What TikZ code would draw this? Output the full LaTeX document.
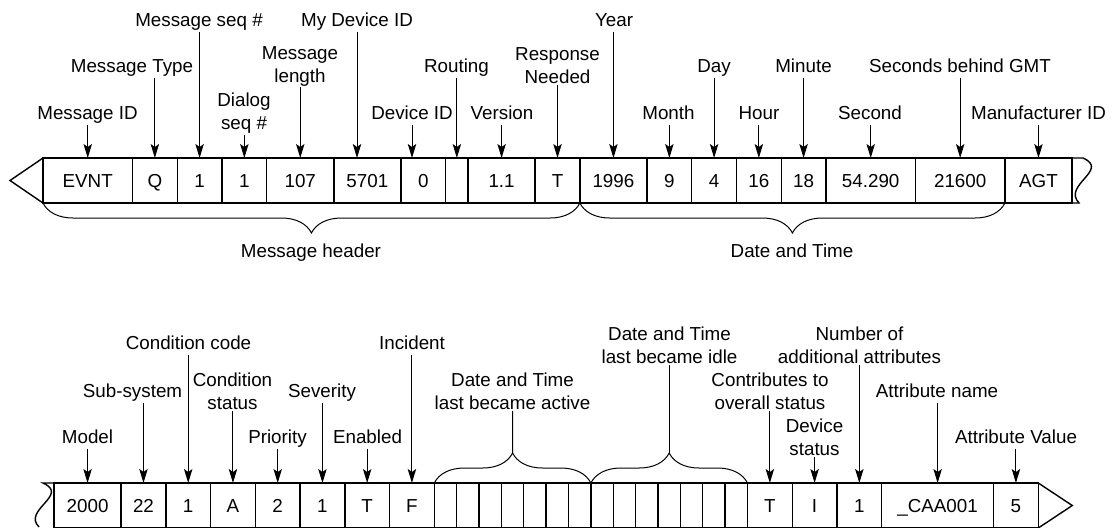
\documentclass[tikz,border=0pt]{standalone}
\usepackage{fontspec}
\setmainfont{Liberation Sans}
\usetikzlibrary{arrows.meta, positioning, decorations.pathreplacing}

\begin{document}
\begin{tikzpicture}[x=0.5pt, y=-0.5pt,
        cell/.style={draw, rectangle, line width=0.7pt, outer sep=0pt, inner sep=0pt, minimum width=22.37pt, minimum height=22.5pt, text height=6.8pt, text depth=0pt, font=\fontsize{9.4}{11.5}\selectfont},
        cellhalf/.style={cell, minimum width=11.185pt},
        cellwide/.style={cell, minimum width=33.555pt},
        celldbl/.style={cell, minimum width=44.74pt},
        celllong/.style={cell, minimum width=55.925pt},
        rowline/.style={line width=0.7pt},
        fieldlbl/.style={inner sep=0.5pt, text height=6.8pt, text depth=2pt, font=\fontsize{9.4}{11.5}\selectfont},
        fieldlbltwo/.style={inner sep=0.5pt, align=center, font=\fontsize{9.4}{11.5}\selectfont},
        pointer/.style={-{Stealth[length=7pt, width=4.2pt, inset=1.5pt]}, line width=0.5pt},
        grpbrace/.style={decorate, decoration={brace, amplitude=15pt}, line width=0.5pt}]
        \useasboundingbox (0,0) rectangle (1112,527);

        \node[celldbl, anchor=west] (evnt) at (43,180.5) {EVNT};
        \node[cell, right=0pt of evnt] (mtype) {Q};
        \node[cell, right=0pt of mtype] (mseq) {1};
        \node[cell, right=0pt of mseq] (dseq) {1};
        \node[cellwide, right=0pt of dseq] (mlen) {107};
        \node[cellwide, right=0pt of mlen] (mydev) {5701};
        \node[cell, right=0pt of mydev] (dev) {0};
        \node[cellhalf, right=0pt of dev] (rte) {};
        \node[cellwide, right=0pt of rte] (ver) {1.1};
        \node[cell, right=0pt of ver] (resp) {T};
        \node[cellwide, right=0pt of resp] (yr) {1996};
        \node[cell, right=0pt of yr] (mon) {9};
        \node[cell, right=0pt of mon] (day) {4};
        \node[cell, right=0pt of day] (hr) {16};
        \node[cell, right=0pt of hr] (mnt) {18};
        \node[celldbl, right=0pt of mnt] (sec) {54.290};
        \node[celldbl, right=0pt of sec] (gmt) {21600};
        \node[cellwide, right=0pt of gmt] (mfr) {AGT};

        \draw[rowline] (evnt.north west) -- ([xshift=-16.5pt]evnt.west) -- (evnt.south west);
        \draw[rowline] (mfr.north east) -- (1083,158) .. controls (1110,170) and (1062,185) .. (1079,203) -- (mfr.south east);

        \node[fieldlbl] (msgidlbl) at (87.5,114.5) {Message ID};
        \node[fieldlbl] (typelbl) at (132,67.5) {Message Type};
        \node[fieldlbl] (mseqlbl) at (199,21.5) {Message seq \#};
        \node[fieldlbltwo] (dseqlbl) at (244,113.5) {Dialog\\seq \#};
        \node[fieldlbltwo] (lenlbl) at (300,66) {Message\\length};
        \node[fieldlbl] (mydevlbl) at (357,21.5) {My Device ID};
        \node[fieldlbl] (devlbl) at (412,114.5) {Device ID};
        \node[fieldlbl] (rtelbl) at (456.5,67.5) {Routing};
        \node[fieldlbl] (verlbl) at (502,114.5) {Version};
        \node[fieldlbltwo] (resplbl) at (557.5,66) {Response\\Needed};
        \node[fieldlbl] (yrlbl) at (614,21.5) {Year};
        \node[fieldlbl] (monlbl) at (668.5,114.5) {Month};
        \node[fieldlbl] (daylbl) at (714,67.5) {Day};
        \node[fieldlbl] (hrlbl) at (759,114.5) {Hour};
        \node[fieldlbl] (mntlbl) at (803.5,67.5) {Minute};
        \node[fieldlbl] (seclbl) at (870,114.5) {Second};
        \node[fieldlbl] (gmtlbl) at (960,67.5) {Seconds behind GMT};
        \node[fieldlbl] (mfrlbl) at (1038.5,114.5) {Manufacturer ID};

        \draw[pointer] (evnt.north |- msgidlbl.south) -- (evnt.north);
        \draw[pointer] (mtype.north |- typelbl.south) -- (mtype.north);
        \draw[pointer] (mseq.north |- mseqlbl.south) -- (mseq.north);
        \draw[pointer] (dseq.north |- dseqlbl.south) -- (dseq.north);
        \draw[pointer] (mlen.north |- lenlbl.south) -- (mlen.north);
        \draw[pointer] (mydevlbl.south) -- (mydevlbl.south |- mydev.north);
        \draw[pointer] (devlbl.south) -- (devlbl.south |- dev.north);
        \draw[pointer] (rte.north |- rtelbl.south) -- (rte.north);
        \draw[pointer] (ver.north |- verlbl.south) -- (ver.north);
        \draw[pointer] (resp.north |- resplbl.south) -- (resp.north);
        \draw[pointer] (yr.north |- yrlbl.south) -- (yr.north);
        \draw[pointer] (mon.north |- monlbl.south) -- (mon.north);
        \draw[pointer] (day.north |- daylbl.south) -- (day.north);
        \draw[pointer] (hr.north |- hrlbl.south) -- (hr.north);
        \draw[pointer] (mnt.north |- mntlbl.south) -- (mnt.north);
        \draw[pointer] (sec.north |- seclbl.south) -- (sec.north);
        \draw[pointer] (gmt.north |- gmtlbl.south) -- (gmt.north);
        \draw[pointer] (mfr.north |- mfrlbl.south) -- (mfr.north);

        \draw[grpbrace] (resp.south east) -- (evnt.south west);
        \draw[grpbrace] (mfr.south west) -- (yr.south west);
        \node[fieldlbl] (hdrlbl) at (311,252.5) {Message header};
        \node[fieldlbl] (dtlbl) at (792,252.5) {Date and Time};

        \node[cellwide, anchor=west] (mdl) at (54,505.5) {2000};
        \node[cell, right=0pt of mdl] (subsys) {22};
        \node[cell, right=0pt of subsys] (ccode) {1};
        \node[cell, right=0pt of ccode] (cstat) {A};
        \node[cell, right=0pt of cstat] (prio) {2};
        \node[cell, right=0pt of prio] (sev) {1};
        \node[cell, right=0pt of sev] (enab) {T};
        \node[cell, right=0pt of enab] (inc) {F};
        \node[cellhalf, right=0pt of inc] (a1) {};
        \node[cellhalf, right=0pt of a1] (a2) {};
        \node[cellhalf, right=0pt of a2] (a3) {};
        \node[cellhalf, right=0pt of a3] (a4) {};
        \node[cellhalf, right=0pt of a4] (a5) {};
        \node[cellhalf, right=0pt of a5] (a6) {};
        \node[cellhalf, right=0pt of a6] (a7) {};
        \node[cellhalf, right=0pt of a7] (i1) {};
        \node[cellhalf, right=0pt of i1] (i2) {};
        \node[cellhalf, right=0pt of i2] (i3) {};
        \node[cellhalf, right=0pt of i3] (i4) {};
        \node[cellhalf, right=0pt of i4] (i5) {};
        \node[cellhalf, right=0pt of i5] (i6) {};
        \node[cellhalf, right=0pt of i6] (i7) {};
        \node[cell, right=0pt of i7] (contrib) {T};
        \node[cell, right=0pt of contrib] (devst) {I};
        \node[cell, right=0pt of devst] (nattr) {1};
        \node[celllong, right=0pt of nattr] (aname) {\_CAA001};
        \node[cell, right=0pt of aname] (aval) {5};

        \draw[rowline] (mdl.north west) -- (43,483) .. controls (70,495) and (22,510) .. (39,527);
        \draw[rowline] (aval.north east) -- ([xshift=17pt]aval.east) -- (aval.south east);

        \node[fieldlbl] (mdllbl) at (87.5,438.5) {Model};
        \node[fieldlbl] (sublbl) at (132.5,392.5) {Sub-system};
        \node[fieldlbl] (cclbl) at (188.5,344.5) {Condition code};
        \node[fieldlbltwo] (cstlbl) at (232.5,391) {Condition\\status};
        \node[fieldlbl] (prilbl) at (277.5,438.5) {Priority};
        \node[fieldlbl] (sevlbl) at (322,392.5) {Severity};
        \node[fieldlbl] (enalbl) at (367.5,438.5) {Enabled};
        \node[fieldlbl] (inclbl) at (412,344.5) {Incident};
        \node[fieldlbltwo] (actlbl) at (512.5,391) {Date and Time\\last became active};
        \node[fieldlbltwo] (idlelbl) at (669.5,345) {Date and Time\\last became idle};
        \node[fieldlbltwo] (contriblbl) at (770,391) {Contributes to\\overall status};
        \node[fieldlbltwo] (devstlbl) at (814.5,437) {Device\\status};
        \node[fieldlbltwo] (nattrlbl) at (859.5,345) {Number of\\additional attributes};
        \node[fieldlbl] (anamelbl) at (937,392.5) {Attribute name};
        \node[fieldlbl] (avallbl) at (1016,438.5) {Attribute Value};

        \draw[pointer] (mdl.north |- mdllbl.south) -- (mdl.north);
        \draw[pointer] (subsys.north |- sublbl.south) -- (subsys.north);
        \draw[pointer] (ccode.north |- cclbl.south) -- (ccode.north);
        \draw[pointer] (cstat.north |- cstlbl.south) -- (cstat.north);
        \draw[pointer] (prio.north |- prilbl.south) -- (prio.north);
        \draw[pointer] (sev.north |- sevlbl.south) -- (sev.north);
        \draw[pointer] (enab.north |- enalbl.south) -- (enab.north);
        \draw[pointer] (inc.north |- inclbl.south) -- (inc.north);
        \draw[pointer] (contrib.north |- contriblbl.south) -- (contrib.north);
        \draw[pointer] (devst.north |- devstlbl.south) -- (devst.north);
        \draw[pointer] (nattr.north |- nattrlbl.south) -- (nattr.north);
        \draw[pointer] (aname.north |- anamelbl.south) -- (aname.north);
        \draw[pointer] (aval.north |- avallbl.south) -- (aval.north);

        \draw[grpbrace] (a1.north west) -- (a7.north east);
        \draw[grpbrace] (i1.north west) -- (i7.north east);
        \coordinate (acttip) at (512.7,453);
        \coordinate (idletip) at (669.5,453);
        \draw[line width=0.5pt] (actlbl.south) -- (acttip);
        \draw[line width=0.5pt] (idlelbl.south) -- (idletip);
    \end{tikzpicture}
\end{document}
